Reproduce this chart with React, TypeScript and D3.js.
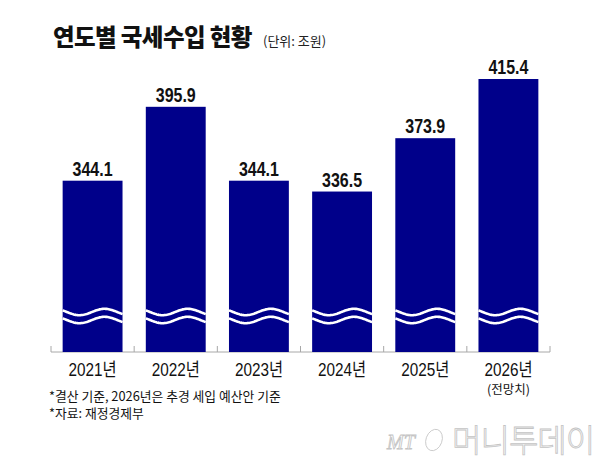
import * as d3 from "d3"

const years = ["2021년", "2022년", "2023년", "2024년", "2025년", "2026년"]
const revenue = [344.1, 395.9, 344.1, 336.5, 373.9, 415.4]
const subLabels = ["", "", "", "", "", "(전망치)"]
const notes = ["*결산 기준, 2026년은 추경 세입 예산안 기준", "*자료: 재정경제부"]

const W = 600
const H = 464
const base = 352
const navy = "#00008a"
const arial = "'Liberation Sans', 'Noto Sans CJK KR', sans-serif"
const kr = "'Noto Sans CJK KR', 'Noto Sans', sans-serif"

const App = () => {
	const x = d3.scaleBand<string>().domain(years).range([51, 550]).paddingInner(0.28).paddingOuter(0.14)
	// broken axis: the bars do not start at zero
	const y = d3.scaleLinear().domain([224, 415.4]).range([base, 79])
	const bw = x.bandwidth()

	// the "cut" wave drawn across every bar
	const wave = (x0: number, yc: number) => {
		const pts: [number, number][] = d3.range(0, bw + 0.5, 1).map((d) => [
			x0 + d,
			yc + 3.2 * Math.sin((2 * Math.PI * (d / bw - 0.07)) / 0.84),
		])
		return d3.line()(pts) as string
	}

	const ticks = d3.range(years.length + 1).map((i) => 51 + i * x.step())

	return (
		<svg width={W} height={H} style={{ position: "absolute", left: 0, top: 0, background: "#fff" }}>
			<text x={53} y={46} fontFamily={kr} fontWeight={900} fontSize={23.5} letterSpacing={-0.6} fill="#111">
				연도별 국세수입 현황
			</text>
			<text x={263} y={46} fontFamily={kr} fontSize={13} fill="#222">
				(단위: 조원)
			</text>

			<line x1={51} x2={550} y1={base} y2={base} stroke="#a8a8a8" strokeWidth={1} />
			{ticks.map((t, i) => (
				<line key={i} x1={t} x2={t} y1={base} y2={base - 6} stroke="#a8a8a8" strokeWidth={1} />
			))}

			{years.map((yr, i) => {
				const x0 = x(yr) as number
				const cx = x0 + bw / 2
				return (
					<g key={yr}>
						<rect x={x0} y={y(revenue[i])} width={bw} height={base - y(revenue[i])} fill={navy} />
						<path d={wave(x0, 312)} fill="none" stroke="#fff" strokeWidth={2.6} />
						<path d={wave(x0, 320)} fill="none" stroke="#fff" strokeWidth={2.6} />
						{/* narrow (condensed) numerals */}
						<text
							transform={`translate(${cx},${y(revenue[i]) - 5}) scale(0.82,1)`}
							textAnchor="middle"
							fontFamily={arial}
							fontWeight={700}
							fontSize={19.5}
							fill="#111"
						>
							{revenue[i].toFixed(1)}
						</text>
						<text
							transform={`translate(${cx},376) scale(0.85,1)`}
							textAnchor="middle"
							fontFamily={arial}
							fontSize={18}
							fill="#111"
						>
							{yr}
						</text>
						{subLabels[i] && (
							<text x={cx} y={394} textAnchor="middle" fontFamily={kr} fontSize={12.5} fill="#111">
								{subLabels[i]}
							</text>
						)}
					</g>
				)
			})}

			{notes.map((n, i) => (
				<text key={i} x={49} y={401 + i * 17} fontFamily={kr} fontSize={12.8} fill="#111">
					{n}
				</text>
			))}

			{/* faint watermark */}
			<g fill="#fafafa" stroke="#c4c4c4" strokeWidth={0.8}>
				<text x={387} y={449} fontFamily="'Liberation Serif', serif" fontStyle="italic" fontSize={20}>
					MT
				</text>
				<ellipse cx={434} cy={440} rx={8} ry={11} transform="rotate(20 434 440)" fill="none" />
				<text x={452} y={452} fontFamily={kr} fontWeight={300} fontSize={32} letterSpacing={-1}>
					머니투데이
				</text>
			</g>
		</svg>
	)
}

export default App
